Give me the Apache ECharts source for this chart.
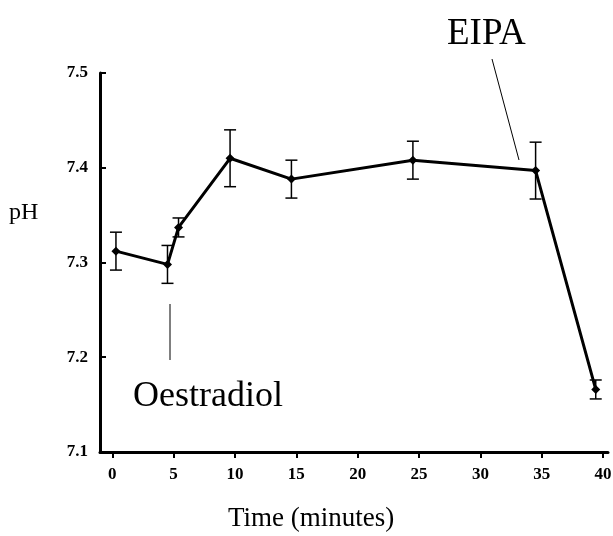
<!DOCTYPE html>
<html>
<head>
<meta charset="utf-8">
<script src="https://cdn.jsdelivr.net/npm/echarts@6/dist/echarts.min.js"></script>
<style>
  html, body { margin: 0; padding: 0; background: #fff; }
  #chart { width: 613px; height: 536px; }
</style>
</head>
<body>
<div id="chart"></div>
<script>
// 时间点 (minutes) 和 pH 平均值、误差
const times = [0.3, 4.5, 5.4, 9.6, 14.6, 24.5, 34.5, 39.4]
const phMean = [7.312, 7.298, 7.337, 7.410, 7.388, 7.408, 7.397, 7.166]
const phErr = [0.02, 0.02, 0.01, 0.03, 0.02, 0.02, 0.03, 0.01]
const xTicks = [0, 5, 10, 15, 20, 25, 30, 35, 40]
const yTicks = [7.1, 7.2, 7.3, 7.4, 7.5]

const serif = '"Liberation Serif", "Times New Roman", serif'

let chart = echarts.init(document.getElementById('chart'))

let lineData = times.map((t, i) => [t, phMean[i]])
let errData = times.map((t, i) => [t, phMean[i] - phErr[i], phMean[i] + phErr[i]])

let option = {
  animation: false,
  backgroundColor: '#fff',
  grid: { left: 100, right: 5, top: 73, bottom: 84, outerBoundsMode: 'none', containLabel: false },
  xAxis: {
    type: 'value',
    min: -1,
    max: 40.4,
    splitLine: { show: false },
    axisLine: { onZero: false, lineStyle: { color: '#000', width: 3 } },
    axisTick: { customValues: xTicks, length: 6, lineStyle: { color: '#000', width: 2 } },
    axisLabel: {
      customValues: xTicks,
      margin: 14,
      fontFamily: serif, fontSize: 17, fontWeight: 'bold', color: '#000'
    }
  },
  yAxis: {
    type: 'value',
    min: 7.1,
    max: 7.5,
    splitLine: { show: false },
    axisLine: { show: true, onZero: false, lineStyle: { color: '#000', width: 3 } },
    axisTick: { show: true, inside: true, customValues: yTicks, length: 6, lineStyle: { color: '#000', width: 2 } },
    axisLabel: {
      customValues: yTicks,
      margin: 12,
      formatter: v => v.toFixed(1),
      fontFamily: serif, fontSize: 17, fontWeight: 'bold', color: '#000'
    }
  },
  graphic: [
    { type: 'text', left: 9, top: 201, style: { text: 'pH', font: '24px ' + serif, fill: '#000' } },
    { type: 'text', left: 228, top: 505, style: { text: 'Time (minutes)', font: '27px ' + serif, fill: '#000' } },
    { type: 'text', left: 133, top: 379, style: { text: 'Oestradiol', font: '36px ' + serif, fill: '#000' } },
    { type: 'text', left: 447, top: 16, style: { text: 'EIPA', font: '37px ' + serif, fill: '#000' } },
    { type: 'line', shape: { x1: 170, y1: 304, x2: 170, y2: 360 }, style: { stroke: '#000', lineWidth: 1 } },
    { type: 'line', shape: { x1: 492, y1: 59, x2: 519, y2: 160 }, style: { stroke: '#000', lineWidth: 1 } }
  ],
  series: [
    {
      type: 'custom',
      data: errData,
      z: 3,
      renderItem: (params, api) => {
        let x = api.value(0)
        let lo = api.coord([x, api.value(1)])
        let hi = api.coord([x, api.value(2)])
        let w = 6
        let st = { stroke: '#000', lineWidth: 1.5 }
        return {
          type: 'group',
          children: [
            { type: 'line', shape: { x1: lo[0], y1: lo[1], x2: hi[0], y2: hi[1] }, style: st },
            { type: 'line', shape: { x1: lo[0] - w, y1: lo[1], x2: lo[0] + w, y2: lo[1] }, style: st },
            { type: 'line', shape: { x1: hi[0] - w, y1: hi[1], x2: hi[0] + w, y2: hi[1] }, style: st }
          ]
        }
      }
    },
    {
      type: 'line',
      data: lineData,
      z: 4,
      symbol: 'diamond',
      symbolSize: 9,
      itemStyle: { color: '#000' },
      lineStyle: { color: '#000', width: 3 }
    }
  ]
}
chart.setOption(option)
</script>
</body>
</html>
